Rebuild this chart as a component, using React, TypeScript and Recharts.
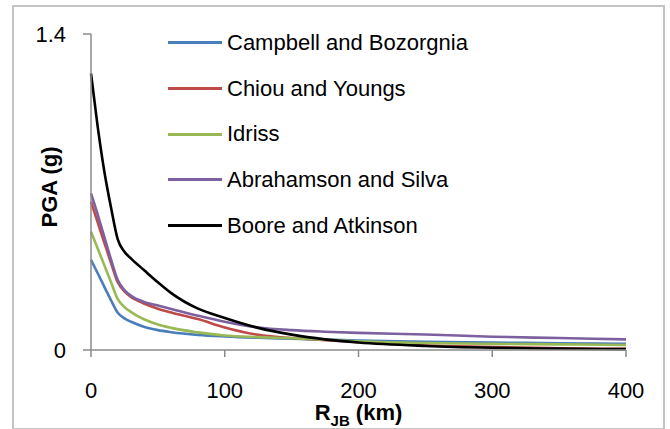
import { Label, Line, LineChart, XAxis, YAxis } from "recharts";

const distances = [0, 5, 10, 15, 20, 25, 30, 40, 50, 60, 80, 100, 125, 150, 175, 200, 250, 300, 350, 400];

const campbell = [0.4, 0.34, 0.28, 0.22, 0.165, 0.14, 0.125, 0.102, 0.088, 0.079, 0.067, 0.06, 0.054, 0.05, 0.046, 0.042, 0.036, 0.033, 0.03, 0.027];
const chiou = [0.657, 0.565, 0.475, 0.385, 0.3, 0.26, 0.235, 0.205, 0.183, 0.166, 0.137, 0.1, 0.067, 0.053, 0.043, 0.035, 0.021, 0.013, 0.008, 0.005];
const idriss = [0.524, 0.45, 0.375, 0.3, 0.225, 0.19, 0.168, 0.135, 0.113, 0.098, 0.078, 0.064, 0.057, 0.052, 0.046, 0.038, 0.031, 0.027, 0.025, 0.022];
const abrahamson = [0.694, 0.6, 0.5, 0.4, 0.31, 0.265, 0.24, 0.212, 0.197, 0.182, 0.152, 0.125, 0.1, 0.088, 0.081, 0.076, 0.069, 0.059, 0.053, 0.047];
const boore = [1.225, 0.99, 0.79, 0.63, 0.49, 0.435, 0.405, 0.352, 0.3, 0.252, 0.183, 0.142, 0.098, 0.068, 0.047, 0.033, 0.018, 0.01, 0.006, 0.004];

const xTicks = [0, 100, 200, 300, 400];
const yTicks = [0, 1.4];

const series = [
  { key: "cb", name: "Campbell and Bozorgnia", color: "#4a7ebb", values: campbell },
  { key: "cy", name: "Chiou and Youngs", color: "#be4b48", values: chiou },
  { key: "id", name: "Idriss", color: "#98b954", values: idriss },
  { key: "as", name: "Abrahamson and Silva", color: "#7d60a0", values: abrahamson },
  { key: "ba", name: "Boore and Atkinson", color: "#000000", values: boore },
];

const data = distances.map((r, i) => {
  const row: Record<string, number> = { r };
  series.forEach((s) => {
    row[s.key] = s.values[i];
  });
  return row;
});

const font = "'Liberation Sans', Arial, sans-serif";
const axisColor = "#8a8a8a";

function XTitle({ viewBox }: any) {
  const cx = viewBox.x + viewBox.width / 2;
  return (
    <text x={cx} y={420} textAnchor="middle" fontFamily={font} fontSize={22} fontWeight="bold" fill="#000">
      R
      <tspan fontSize={15} dy={6}>JB</tspan>
      <tspan dy={-6}> (km)</tspan>
    </text>
  );
}

function YTitle({ viewBox }: any) {
  const cy = viewBox.y + viewBox.height / 2 - 5;
  return (
    <text
      x={49}
      y={cy}
      transform={`rotate(-90 49 ${cy})`}
      textAnchor="middle"
      dominantBaseline="central"
      fontFamily={font}
      fontSize={22}
      fontWeight="bold"
      fill="#000"
    >
      PGA (g)
    </text>
  );
}

function ChartLegend() {
  return (
    <div style={{ position: "absolute", left: 168, top: 20, fontFamily: font, fontSize: 22, color: "#000" }}>
      {series.map((s) => (
        <div key={s.key} style={{ height: 45.7, display: "flex", alignItems: "center" }}>
          <div style={{ width: 54, height: 3, background: s.color, marginRight: 5 }} />
          <span>{s.name}</span>
        </div>
      ))}
    </div>
  );
}

export default function App() {
  return (
    <div style={{ position: "absolute", left: 0, top: 0, width: 670, height: 429, background: "#fff" }}>
      <div
        style={{
          position: "absolute",
          left: 12,
          top: 5,
          width: 649,
          height: 421,
          border: "2px solid #c4c4c4",
        }}
      />
      <LineChart
        width={670}
        height={429}
        data={data}
        margin={{ top: 34, right: 44, bottom: 0, left: 0 }}
        style={{ position: "absolute", left: 0, top: 0 }}
      >
        <XAxis
          dataKey="r"
          type="number"
          domain={[0, 400]}
          ticks={xTicks}
          height={79}
          tickSize={7}
          tickMargin={25}
          tick={{ fill: "#000", fontSize: 22, fontFamily: font }}
          axisLine={{ stroke: axisColor, strokeWidth: 1.5 }}
          tickLine={{ stroke: axisColor, strokeWidth: 1.5 }}
        >
          <Label content={<XTitle />} />
        </XAxis>
        <YAxis
          type="number"
          domain={[0, 1.4]}
          ticks={yTicks}
          width={91}
          tickSize={8}
          tickMargin={17}
          tickFormatter={(v) => (v === 0 ? "0" : String(v))}
          tick={{ fill: "#000", fontSize: 22, fontFamily: font }}
          axisLine={{ stroke: axisColor, strokeWidth: 1.5 }}
          tickLine={{ stroke: axisColor, strokeWidth: 1.5 }}
        >
          <Label content={<YTitle />} />
        </YAxis>
        {series.map((s) => (
          <Line
            key={s.key}
            type="monotone"
            dataKey={s.key}
            name={s.name}
            stroke={s.color}
            strokeWidth={2.6}
            dot={false}
            isAnimationActive={false}
          />
        ))}
      </LineChart>
      <ChartLegend />
    </div>
  );
}
